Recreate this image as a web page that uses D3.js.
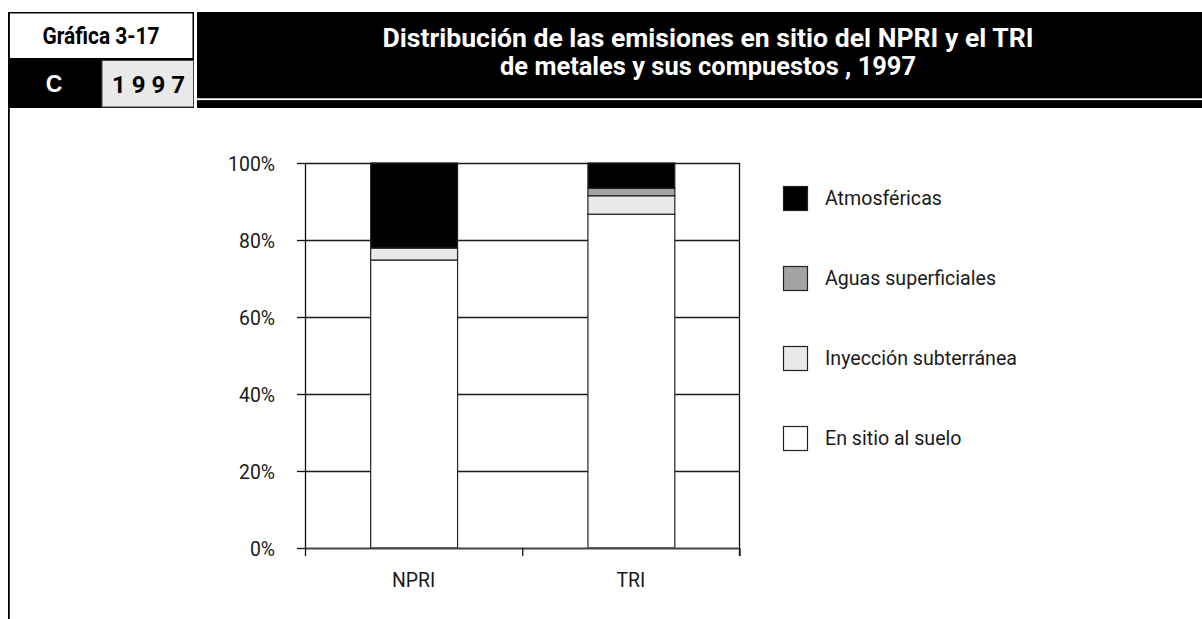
<!DOCTYPE html>
<html>
<head>
<meta charset="utf-8">
<script src="https://cdn.jsdelivr.net/npm/d3@7"></script>
<style>
  html, body { margin: 0; padding: 0; background: #fff; }
  svg { display: block; }
</style>
</head>
<body>
<svg id="chart" width="1202" height="619"></svg>
<script>
// ---- data ----
const categories = ["NPRI", "TRI"];
const seriesNames = ["En sitio al suelo", "Inyección subterránea", "Aguas superficiales", "Atmosféricas"];
const suelo = [74.8, 86.7];
const inyeccion = [3.1, 4.8];
const aguas = [0.0, 1.9];
const atmosfericas = [22.1, 6.6];
const yTicks = [0, 20, 40, 60, 80, 100];
const legendOrder = ["Atmosféricas", "Aguas superficiales", "Inyección subterránea", "En sitio al suelo"];

const titleLines = ["Distribución de las emisiones en sitio del NPRI y el TRI", "de metales y sus compuestos , 1997"];

const rows = categories.map((c, i) => ({
  cat: c,
  "En sitio al suelo": suelo[i],
  "Inyección subterránea": inyeccion[i],
  "Aguas superficiales": aguas[i],
  "Atmosféricas": atmosfericas[i]
}));

const colors = d3.scaleOrdinal()
  .domain(seriesNames)
  .range(["#ffffff", "#e9e9e9", "#a3a3a3", "#000000"]);

const svg = d3.select("#chart");
const FONT = "Roboto, 'Liberation Sans', sans-serif";

function fitTo(sel, target) {
  sel.each(function () {
    d3.select(this).attr("textLength", target).attr("lengthAdjust", "spacingAndGlyphs");
  });
}
function scaleWidth(sel, ratio) {
  sel.each(function () {
    const w = this.getComputedTextLength();
    if (w > 0) d3.select(this).attr("textLength", (w * ratio).toFixed(1)).attr("lengthAdjust", "spacingAndGlyphs");
  });
}

// ---- header ----
svg.append("rect").attr("x", 197).attr("y", 12).attr("width", 1005).attr("height", 96).attr("fill", "#000");
svg.append("rect").attr("x", 197).attr("y", 98.3).attr("width", 1005).attr("height", 1.8).attr("fill", "#fff");

svg.append("rect").attr("x", 8).attr("y", 59).attr("width", 186).attr("height", 49).attr("fill", "#000");
svg.append("rect").attr("x", 8.75).attr("y", 12.75).attr("width", 184.5).attr("height", 46)
  .attr("fill", "#fff").attr("stroke", "#000").attr("stroke-width", 1.5);
svg.append("rect").attr("x", 102).attr("y", 60.5).attr("width", 91.5).attr("height", 46.5)
  .attr("fill", "#e9e9e9").attr("stroke", "#444").attr("stroke-width", 1);
svg.append("line").attr("x1", 8.9).attr("x2", 8.9).attr("y1", 12).attr("y2", 619)
  .attr("stroke", "#000").attr("stroke-width", 1.8);

const g1 = svg.append("text").attr("x", 101).attr("y", 44).attr("text-anchor", "middle")
  .attr("font-family", FONT).attr("font-weight", "bold").attr("font-size", 23.5).attr("fill", "#000")
  .text("Gráfica 3-17");
fitTo(g1, 117);

svg.append("text").attr("x", 54).attr("y", 91.5).attr("text-anchor", "middle")
  .attr("font-family", "'Liberation Sans', Arial, sans-serif").attr("font-weight", "bold")
  .attr("font-size", 23).attr("fill", "#fff").text("C");

const yr = svg.append("text").attr("x", 112).attr("y", 92.5).attr("text-anchor", "start")
  .attr("font-family", FONT).attr("font-weight", "bold")
  .attr("font-size", 24).attr("fill", "#000").text("1 9 9 7");
fitTo(yr, 73);

const t1 = svg.append("text").attr("x", 708).attr("y", 46.5).attr("text-anchor", "middle")
  .attr("font-family", FONT).attr("font-weight", "bold").attr("font-size", 26).attr("fill", "#fff")
  .text(titleLines[0]);
fitTo(t1, 651);
const t2 = svg.append("text").attr("x", 708).attr("y", 74.5).attr("text-anchor", "middle")
  .attr("font-family", FONT).attr("font-weight", "bold").attr("font-size", 26).attr("fill", "#fff")
  .text(titleLines[1]);
fitTo(t2, 416);

// ---- plot ----
const x0 = 305, x1 = 739.5, yTop = 163, yBot = 548;
const x = d3.scaleBand().domain(categories).range([x0, x1]).paddingInner(0.6).paddingOuter(0.3);
const y = d3.scaleLinear().domain([0, 100]).range([yBot, yTop]);

// gridlines
svg.append("g").selectAll("line").data(yTicks.filter(d => d > 0)).join("line")
  .attr("x1", x0).attr("x2", x1)
  .attr("y1", d => Math.round(y(d)) + 0.5).attr("y2", d => Math.round(y(d)) + 0.5)
  .attr("stroke", "#1a1a1a").attr("stroke-width", 1.3);

// stacked bars
const stack = d3.stack().keys(seriesNames)(rows);
svg.append("g").selectAll("g").data(stack).join("g")
  .attr("fill", d => colors(d.key))
  .selectAll("rect").data(d => d.filter(s => s[1] - s[0] > 0)).join("rect")
  .attr("x", d => x(d.data.cat) + 0.5)
  .attr("width", x.bandwidth())
  .attr("y", d => y(d[1]))
  .attr("height", d => y(d[0]) - y(d[1]))
  .attr("stroke", "#222").attr("stroke-width", 1.2);

// y axis
const yAxis = svg.append("g").attr("transform", `translate(${x0},0)`)
  .call(d3.axisLeft(y).tickValues(yTicks).tickFormat(d => d + "%").tickSize(8).tickSizeOuter(0));
yAxis.select(".domain").attr("stroke", "#111").attr("stroke-width", 1.3);
yAxis.selectAll(".tick line").attr("stroke", "#111").attr("stroke-width", 1.3);
const yLab = yAxis.selectAll(".tick text").attr("x", -30).attr("dy", "0.35em").attr("font-family", FONT)
  .attr("font-size", 20).attr("fill", "#1a1a1a");
scaleWidth(yLab, 0.97);

// right border
svg.append("line").attr("x1", x1).attr("x2", x1).attr("y1", yTop).attr("y2", yBot + 8)
  .attr("stroke", "#111").attr("stroke-width", 1.3);

// x axis
const xAxisScale = d3.scaleLinear().domain([0, categories.length]).range([x0, x1]);
const xAxis = svg.append("g").attr("transform", `translate(0,${yBot})`)
  .call(d3.axisBottom(xAxisScale).tickValues(d3.range(categories.length + 1)).tickFormat("").tickSize(8).tickSizeOuter(0));
xAxis.select(".domain").attr("stroke", "#444").attr("stroke-width", 1.8);
xAxis.selectAll(".tick line").attr("stroke", "#111").attr("stroke-width", 1.3);

const xLab = svg.append("g").selectAll("text").data(categories).join("text")
  .attr("x", d => x(d) + x.bandwidth() / 2)
  .attr("y", 587)
  .attr("text-anchor", "middle")
  .attr("font-family", FONT).attr("font-size", 20).attr("fill", "#1a1a1a")
  .text(d => d);
scaleWidth(xLab, 0.97);

// legend
const leg = svg.append("g").selectAll("g").data(legendOrder).join("g")
  .attr("transform", (d, i) => `translate(783,${186 + i * 80})`);
leg.append("rect").attr("x", 0.5).attr("y", 0.5).attr("width", 24).attr("height", 24)
  .attr("fill", d => colors(d)).attr("stroke", "#222").attr("stroke-width", 1.2);
const legText = leg.append("text").attr("x", 42).attr("y", 19)
  .attr("font-family", FONT).attr("font-size", 20).attr("fill", "#1a1a1a")
  .text(d => d);
scaleWidth(legText, 0.98);
</script>
</body>
</html>
